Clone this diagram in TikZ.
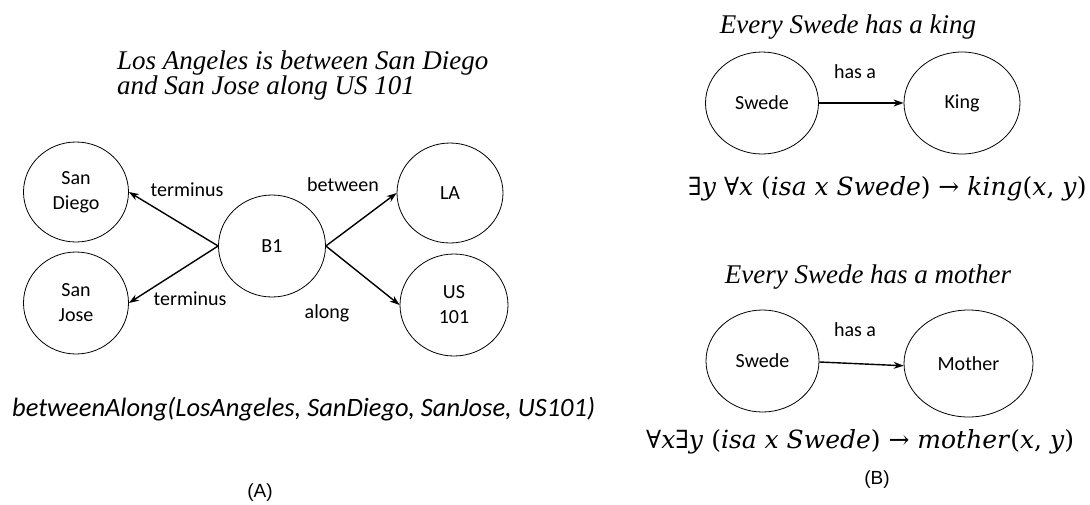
\documentclass[tikz,border=0pt]{standalone}
\usepackage{fontspec}
\setmainfont{Carlito}
\newfontfamily\tms{Liberation Serif}
\newfontfamily\arl{Liberation Sans}
\newfontfamily\djv{DejaVu Serif}
\usetikzlibrary{shapes.geometric,arrows.meta}
\begin{document}
\begin{tikzpicture}[x=1pt,y=-1pt,
  ell/.style={draw, ellipse, line width=0.8pt, inner sep=0pt, align=center, font=\fontsize{20}{25}\selectfont},
  arr/.style={-{Stealth[length=10pt,width=7pt]}, line width=1.4pt},
  lbl/.style={font=\fontsize{20}{24}\selectfont},
  ttl/.style={font=\tms\itshape\fontsize{27}{25}\selectfont, align=left, inner sep=0pt},
  frm/.style={font=\djv\fontsize{25}{30}\selectfont, inner sep=0pt},
  captxt/.style={font=\arl\fontsize{19}{22}\selectfont, inner sep=0pt}]
\useasboundingbox (0,0) rectangle (1090,504);
% (A)
\node[ttl, anchor=base west] (t1) at (117,69) {Los Angeles is between San Diego};
\node[ttl, anchor=base west] (t2) at (117,94) {and San Jose along US 101};
\node[ell, minimum width=105pt, minimum height=100pt] (sd) at (76,192) {San\\Diego};
\node[ell, minimum width=105pt, minimum height=102pt] (sj) at (76,303) {San\\Jose};
\node[ell, minimum width=107pt, minimum height=102pt] (b1) at (272,246) {B1};
\node[ell, minimum width=106pt, minimum height=100pt] (la) at (450,193) {LA};
\node[ell, minimum width=108pt, minimum height=102pt] (us) at (454,305) {US\\101};
\draw[arr] (b1.west) -- (sd.east);
\draw[arr] (b1.west) -- (sj.east);
\draw[arr] (b1.east) -- (la.west);
\draw[arr] (b1.east) -- (us.west);
\node[lbl] (l1) at (187,190) {terminus};
\node[lbl] (l2) at (190,299) {terminus};
\node[lbl] (l3) at (343,185) {between};
\node[lbl] (l4) at (327,313) {along};
\node[font=\itshape\fontsize{26.5}{30}\selectfont, inner sep=0pt, anchor=base west] (ba) at (12,416) {betweenAlong(LosAngeles, SanDiego, SanJose, US101)};
\node[captxt] (ca) at (260,493) {(A)};
% (B) top
\node[ttl, anchor=base] (t3) at (848,33) {Every Swede has a king};
\node[ell, minimum width=113pt, minimum height=102pt] (sw1) at (762,103) {Swede};
\node[ell, minimum width=116pt, minimum height=102pt] (ki) at (962,103) {King};
\draw[arr] (sw1.east) -- (ki.west);
\node[lbl] (h1) at (855,72) {has a};
\node[frm, anchor=base west] (f1) at (688,195) {∃\textit{y} ∀\textit{x} (\textit{isa x Swede}) → \textit{king}(\textit{x}, \textit{y})};
% (B) bottom
\node[ttl, anchor=base] (t4) at (868,283) {Every Swede has a mother};
\node[ell, minimum width=113pt, minimum height=102pt] (sw2) at (762.5,361) {Swede};
\node[ell, minimum width=129pt, minimum height=107pt] (mo) at (968.5,363.5) {Mother};
\draw[arr] (sw2.-1) -- (mo.182);
\node[lbl] (h2) at (855,330) {has a};
\node[frm, anchor=base west] (f2) at (646,448) {∀\textit{x}∃\textit{y} (\textit{isa x Swede}) → \textit{mother}(\textit{x}, \textit{y})};
\node[captxt] (cb) at (877,480) {(B)};
\end{tikzpicture}
\end{document}
